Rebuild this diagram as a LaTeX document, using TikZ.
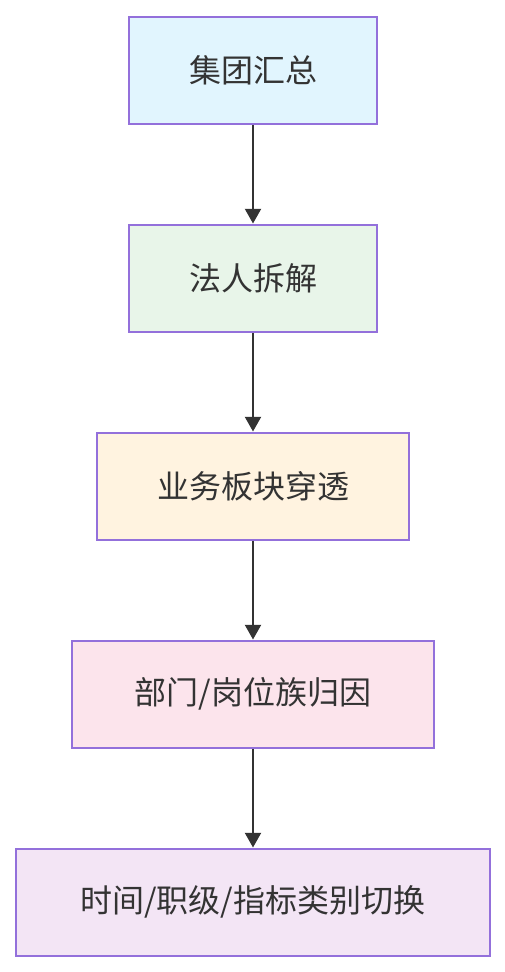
\documentclass[tikz,border=0pt]{standalone}
\usepackage{fontspec}
\setmainfont{Noto Sans CJK SC}
\usetikzlibrary{arrows.meta}
\definecolor{bordc}{HTML}{9370DB}
\definecolor{txtc}{HTML}{333333}
\definecolor{c1}{HTML}{E1F5FE}
\definecolor{c2}{HTML}{E8F5E9}
\definecolor{c3}{HTML}{FFF3E0}
\definecolor{c4}{HTML}{FCE4EC}
\definecolor{c5}{HTML}{F3E5F5}
\tikzset{
  box/.style={draw=bordc, line width=1.5pt, text=txtc, font=\fontsize{24}{28}\selectfont, inner sep=0pt, minimum height=80.5pt, anchor=north},
  conn/.style={draw=txtc, line width=1.5pt, -{Triangle[length=11pt,width=12pt]}},
}
\begin{document}
\begin{tikzpicture}[x=0.75pt,y=-0.75pt]
\useasboundingbox (0,0) rectangle (505,972);
\node[box, fill=c1, minimum width=186pt] (a) at (253,15.5) {集团汇总};
\node[box, fill=c2, minimum width=186pt] (b) at (253,223.5) {法人拆解};
\node[box, fill=c3, minimum width=234pt] (c) at (253,431.5) {业务板块穿透};
\node[box, fill=c4, minimum width=271pt] (d) at (253,639.5) {部门/岗位族归因};
\node[box, fill=c5, minimum width=355pt] (e) at (253,847.5) {时间/职级/指标类别切换};
\draw[conn] (a.south) -- (b.north);
\draw[conn] (b.south) -- (c.north);
\draw[conn] (c.south) -- (d.north);
\draw[conn] (d.south) -- (e.north);
\end{tikzpicture}
\end{document}
